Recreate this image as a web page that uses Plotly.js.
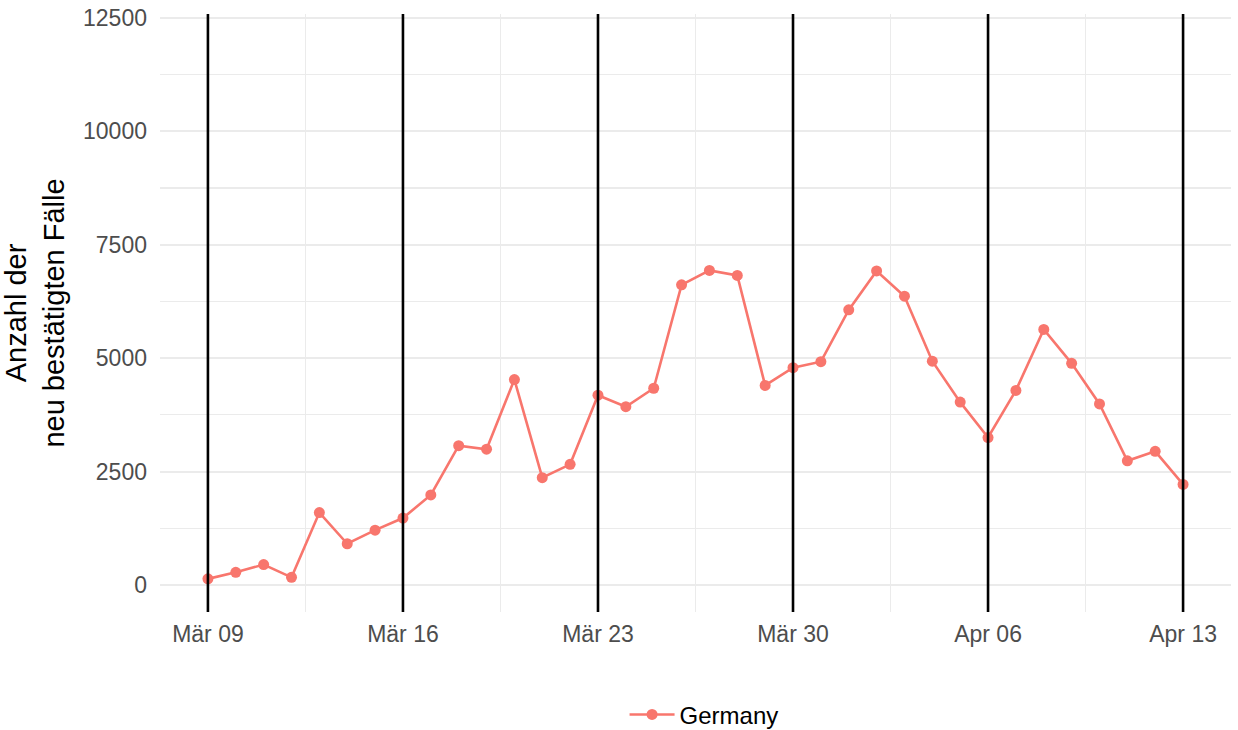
<!DOCTYPE html>
<html>
<head>
<meta charset="utf-8">
<script src="https://cdn.plot.ly/plotly-3.0.1.min.js"></script>
<style>html,body{margin:0;padding:0;background:#fff;}#chart{width:1238px;height:730px;}</style>
</head>
<body>
<div id="chart"></div>
<script>
const dates = ["2020-03-09","2020-03-10","2020-03-11","2020-03-12","2020-03-13","2020-03-14","2020-03-15",
"2020-03-16","2020-03-17","2020-03-18","2020-03-19","2020-03-20","2020-03-21","2020-03-22",
"2020-03-23","2020-03-24","2020-03-25","2020-03-26","2020-03-27","2020-03-28","2020-03-29",
"2020-03-30","2020-03-31","2020-04-01","2020-04-02","2020-04-03","2020-04-04","2020-04-05",
"2020-04-06","2020-04-07","2020-04-08","2020-04-09","2020-04-10","2020-04-11","2020-04-12","2020-04-13"];
const germanyCases = [136,281,451,170,1597,910,1210,
1477,1985,3070,2993,4528,2365,2660,
4183,3930,4337,6615,6933,6824,4400,
4790,4923,6064,6922,6365,4933,4031,
3251,4289,5633,4885,3990,2737,2946,2218];
const weekTicks = ["2020-03-09","2020-03-16","2020-03-23","2020-03-30","2020-04-06","2020-04-13"];
const weekLabels = ["Mär 09","Mär 16","Mär 23","Mär 30","Apr 06","Apr 13"];
const minorX = ["2020-03-12 12:00","2020-03-19 12:00","2020-03-26 12:00","2020-04-02 12:00","2020-04-09 12:00"];
const yTicks = [0,2500,5000,7500,10000,12500];
const yMinor = [1250,3750,6250,8750,11250];

const trace = {
  x: dates, y: germanyCases, type: 'scatter', mode: 'lines+markers', name: 'Germany',
  line: {color: '#F8766D', width: 2.6}, marker: {color: '#F8766D', size: 11}
};
const shapes = weekTicks.map(d => ({
  type: 'line', xref: 'x', yref: 'paper', x0: d, x1: d, y0: 0, y1: 1,
  line: {color: '#000000', width: 2.6}, layer: 'above'
}));
const layout = {
  width: 1238, height: 730,
  margin: {l: 160, r: 7, t: 14, b: 118, autoexpand: false},
  paper_bgcolor: '#ffffff', plot_bgcolor: '#ffffff',
  font: {family: 'Liberation Sans, Arial, sans-serif', color: '#4d4d4d'},
  showlegend: true,
  legend: {orientation: 'h', x: 0.508, xanchor: 'center', y: -0.172, yanchor: 'middle',
           itemwidth: 45, font: {size: 24, color: '#000000'}},
  xaxis: {
    type: 'date', range: ['2020-03-07 06:43', '2020-04-14 17:17'],
    tickmode: 'array', tickvals: weekTicks, ticktext: weekLabels,
    tickfont: {size: 23, color: '#4d4d4d'}, ticklabelstandoff: 6,
    showgrid: true, gridcolor: '#ebebeb', gridwidth: 2.2,
    minor: {tickmode: 'array', tickvals: minorX, showgrid: true, gridcolor: '#ebebeb', gridwidth: 1.1},
    zeroline: false, showline: false, ticks: '', ticklen: 0, automargin: false
  },
  yaxis: {
    range: [-594, 12584],
    tickmode: 'array', tickvals: yTicks, ticktext: yTicks.map(String),
    tickfont: {size: 23, color: '#4d4d4d'}, ticklabelstandoff: 12,
    showgrid: true, gridcolor: '#ebebeb', gridwidth: 2.2,
    minor: {tickmode: 'array', tickvals: yMinor, showgrid: true, gridcolor: '#ebebeb', gridwidth: 1.1},
    zeroline: false, showline: false, ticks: '', ticklen: 0, automargin: false,
    title: {text: 'Anzahl der<br>neu bestätigten Fälle', font: {size: 29, color: '#000000'}, standoff: 10}
  },
  shapes: shapes
};
Plotly.newPlot('chart', [trace], layout, {displayModeBar: false, staticPlot: true});
</script>
</body>
</html>
